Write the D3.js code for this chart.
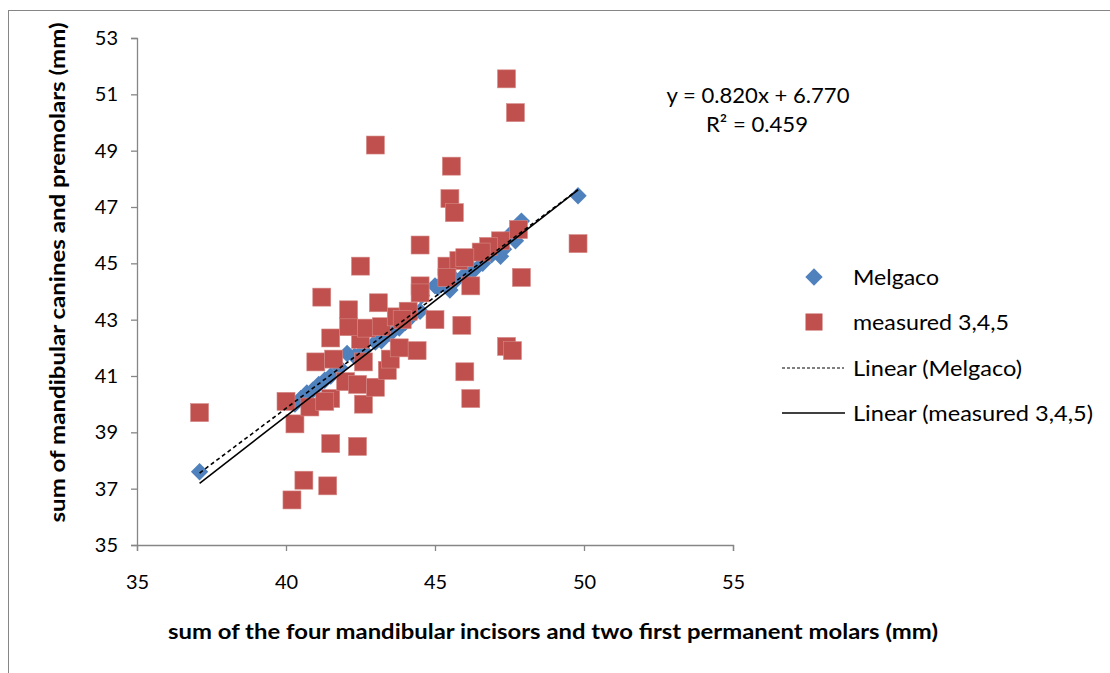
<!DOCTYPE html>
<html>
<head>
<meta charset="utf-8">
<script src="https://cdn.jsdelivr.net/npm/d3@7"></script>
<style>
  html, body { margin: 0; padding: 0; background: #fff; }
  svg { display: block; font-family: Lato, "Open Sans", sans-serif; }
</style>
</head>
<body>
<svg id="chart" width="1110" height="673"></svg>
<script>
// ---- data ----
const xTicks = [35, 40, 45, 50, 55];
const yTicks = [35, 37, 39, 41, 43, 45, 47, 49, 51, 53];

const melgacoX = [37.1, 40.3, 40.5, 40.7, 40.9, 41.1, 41.3, 41.5, 41.8, 42.05, 42.3, 42.6, 43.0, 43.2, 43.5, 43.8, 44.0, 44.2, 44.5, 44.55, 45.0, 45.1, 45.5, 45.7, 46.0, 46.3, 46.6, 46.9, 47.2, 47.3, 47.5, 47.7, 47.8, 47.9, 49.8];
const melgacoY = [37.6, 40.0, 40.2, 40.4, 40.5, 40.7, 40.85, 41.0, 41.3, 41.8, 41.7, 41.9, 42.2, 42.25, 42.5, 42.7, 42.9, 43.1, 43.3, 43.85, 44.2, 44.15, 44.05, 44.4, 44.6, 44.75, 45.0, 45.3, 45.25, 45.5, 46.0, 45.8, 46.2, 46.5, 47.4];

const measuredX = [37.1, 40.2, 40.6, 41.4, 41.5, 42.4, 40.3, 40.0, 40.8, 41.5, 41.3, 42.6, 42.0, 42.4, 43.0, 41.0, 41.6, 42.6, 43.4, 43.5, 43.8, 44.4, 41.5, 42.5, 42.1, 42.7, 43.2, 43.7, 44.1, 43.9, 41.2, 42.1, 43.1, 42.5, 44.5, 44.5, 44.5, 45.4, 45.8, 46.2, 45.0, 45.9, 47.4, 47.6, 46.0, 46.2, 47.9, 49.8, 47.4, 47.7, 43.0, 45.55, 45.5, 45.65, 47.8, 47.2, 46.8, 46.55, 46.0, 45.4];
const measuredY = [39.7, 36.6, 37.3, 37.1, 38.6, 38.5, 39.3, 40.1, 39.9, 40.2, 40.1, 40.0, 40.8, 40.7, 40.6, 41.5, 41.6, 41.5, 41.2, 41.6, 42.0, 41.9, 42.35, 42.3, 42.75, 42.7, 42.75, 43.1, 43.3, 43.0, 43.8, 43.35, 43.6, 44.9, 45.65, 44.2, 43.95, 44.9, 45.1, 44.2, 43.0, 42.8, 42.05, 41.9, 41.15, 40.2, 44.5, 45.7, 51.55, 50.35, 49.2, 48.45, 47.3, 46.8, 46.2, 45.8, 45.6, 45.4, 45.2, 44.5];

// trend line of measured series, as printed on the chart
const measuredSlope = 0.820;
const measuredIntercept = 6.770;
const equationText = "y = 0.820x + 6.770";
const r2Text = "R² = 0.459";

const seriesNames = ["Melgaco", "measured 3,4,5", "Linear (Melgaco)", "Linear (measured 3,4,5)"];
const xTitle = "sum of the four mandibular incisors and two first permanent molars (mm)";
const yTitle = "sum of mandibular canines and premolars (mm)";

// ---- drawing ----
const svg = d3.select("#chart");
const axisColor = "#868686";
const blue = "#4F81BD", red = "#C0504D";

// outer chart frame
svg.append("rect").attr("x", 8.5).attr("y", 10.5).attr("width", 1120).attr("height", 690)
  .attr("fill", "none").attr("stroke", axisColor).attr("stroke-width", 1);

const x = d3.scaleLinear().domain([35, 55]).range([137, 733]);
const y = d3.scaleLinear().domain([35, 53]).range([545, 38]);

// axes
const gx = svg.append("g").attr("transform", `translate(0,${y(35)})`)
  .call(d3.axisBottom(x).tickValues(xTicks).tickSize(6).tickPadding(24).tickFormat(d3.format("d")));
const gy = svg.append("g").attr("transform", `translate(${x(35)},0)`)
  .call(d3.axisLeft(y).tickValues(yTicks).tickSize(6).tickPadding(13).tickFormat(d3.format("d")));
[gx, gy].forEach(g => {
  g.select(".domain").attr("stroke", axisColor).attr("stroke-width", 1.3);
  g.selectAll(".tick line").attr("stroke", axisColor).attr("stroke-width", 1.3);
  g.selectAll(".tick text").attr("fill", "#000").attr("font-size", 20).attr("font-family", "Lato, sans-serif");
});
gx.selectAll(".tick text").attr("dy", "0.68em");

// Melgaco diamonds
const melgaco = melgacoX.map((v, i) => ({x: v, y: melgacoY[i]}));
const measured = measuredX.map((v, i) => ({x: v, y: measuredY[i]}));

const diamond = d3.symbol().type(d3.symbolSquare).size(150);
svg.append("g").selectAll("path").data(melgaco).join("path")
  .attr("d", diamond)
  .attr("transform", d => `translate(${x(d.x)},${y(d.y)}) rotate(45)`)
  .attr("fill", blue);

const sq = 18;
svg.append("g").selectAll("rect").data(measured).join("rect")
  .attr("x", d => x(d.x) - sq / 2).attr("y", d => y(d.y) - sq / 2)
  .attr("width", sq).attr("height", sq)
  .attr("fill", red).attr("stroke", "#d58a88").attr("stroke-width", 0.6);

// Melgaco regression (least squares)
function linreg(xs, ys) {
  const mx = d3.mean(xs), my = d3.mean(ys);
  let sxy = 0, sxx = 0;
  xs.forEach((v, i) => { sxy += (v - mx) * (ys[i] - my); sxx += (v - mx) * (v - mx); });
  const b = sxy / sxx;
  return {slope: b, intercept: my - b * mx};
}
const mReg = linreg(melgacoX, melgacoY);
const line = d3.line().x(d => x(d[0])).y(d => y(d[1]));
const mExt = d3.extent(melgacoX);
svg.append("path")
  .attr("d", line(mExt.map(v => [v, mReg.slope * v + mReg.intercept])))
  .attr("stroke", "#000").attr("stroke-width", 1.6).attr("stroke-dasharray", "4,3").attr("fill", "none");
const rExt = d3.extent(measuredX);
svg.append("path")
  .attr("d", line(rExt.map(v => [v, measuredSlope * v + measuredIntercept])))
  .attr("stroke", "#000").attr("stroke-width", 1.6).attr("fill", "none");

// equation
svg.append("text").attr("x", 758).attr("y", 103).attr("text-anchor", "middle")
  .attr("font-size", 22).attr("textLength", 183).attr("lengthAdjust", "spacingAndGlyphs").text(equationText);
svg.append("text").attr("x", 757).attr("y", 132).attr("text-anchor", "middle")
  .attr("font-size", 22).attr("textLength", 102).attr("lengthAdjust", "spacingAndGlyphs").text(r2Text);

// axis titles
svg.append("text").attr("x", 553).attr("y", 639).attr("text-anchor", "middle")
  .attr("font-weight", "bold").attr("font-size", 20)
  .attr("textLength", 770).attr("lengthAdjust", "spacingAndGlyphs").text(xTitle);
svg.append("text").attr("transform", "translate(65,272.5) rotate(-90)").attr("text-anchor", "middle")
  .attr("font-weight", "bold").attr("font-size", 20)
  .attr("textLength", 500).attr("lengthAdjust", "spacingAndGlyphs").text(yTitle);

// legend
const lg = svg.append("g");
const legY = [277, 322, 368, 413];
const legW = [86, 156, 169, 240];
lg.append("path").attr("d", d3.symbol().type(d3.symbolSquare).size(150)())
  .attr("transform", `translate(814,${legY[0]}) rotate(45)`).attr("fill", blue);
lg.append("rect").attr("x", 814 - 8.5).attr("y", legY[1] - 8.5).attr("width", 17).attr("height", 17).attr("fill", red);
lg.append("line").attr("x1", 782).attr("x2", 844).attr("y1", legY[2]).attr("y2", legY[2])
  .attr("stroke", "#000").attr("stroke-width", 1.2).attr("stroke-dasharray", "3,2");
lg.append("line").attr("x1", 782).attr("x2", 845).attr("y1", legY[3]).attr("y2", legY[3])
  .attr("stroke", "#000").attr("stroke-width", 1.4);
lg.selectAll("text.leg").data(seriesNames).join("text").attr("class", "leg")
  .attr("x", 853).attr("y", (d, i) => legY[i]).attr("dy", "0.35em")
  .attr("font-size", 22)
  .attr("textLength", (d, i) => legW[i]).attr("lengthAdjust", "spacingAndGlyphs")
  .text(d => d);
</script>
</body>
</html>
